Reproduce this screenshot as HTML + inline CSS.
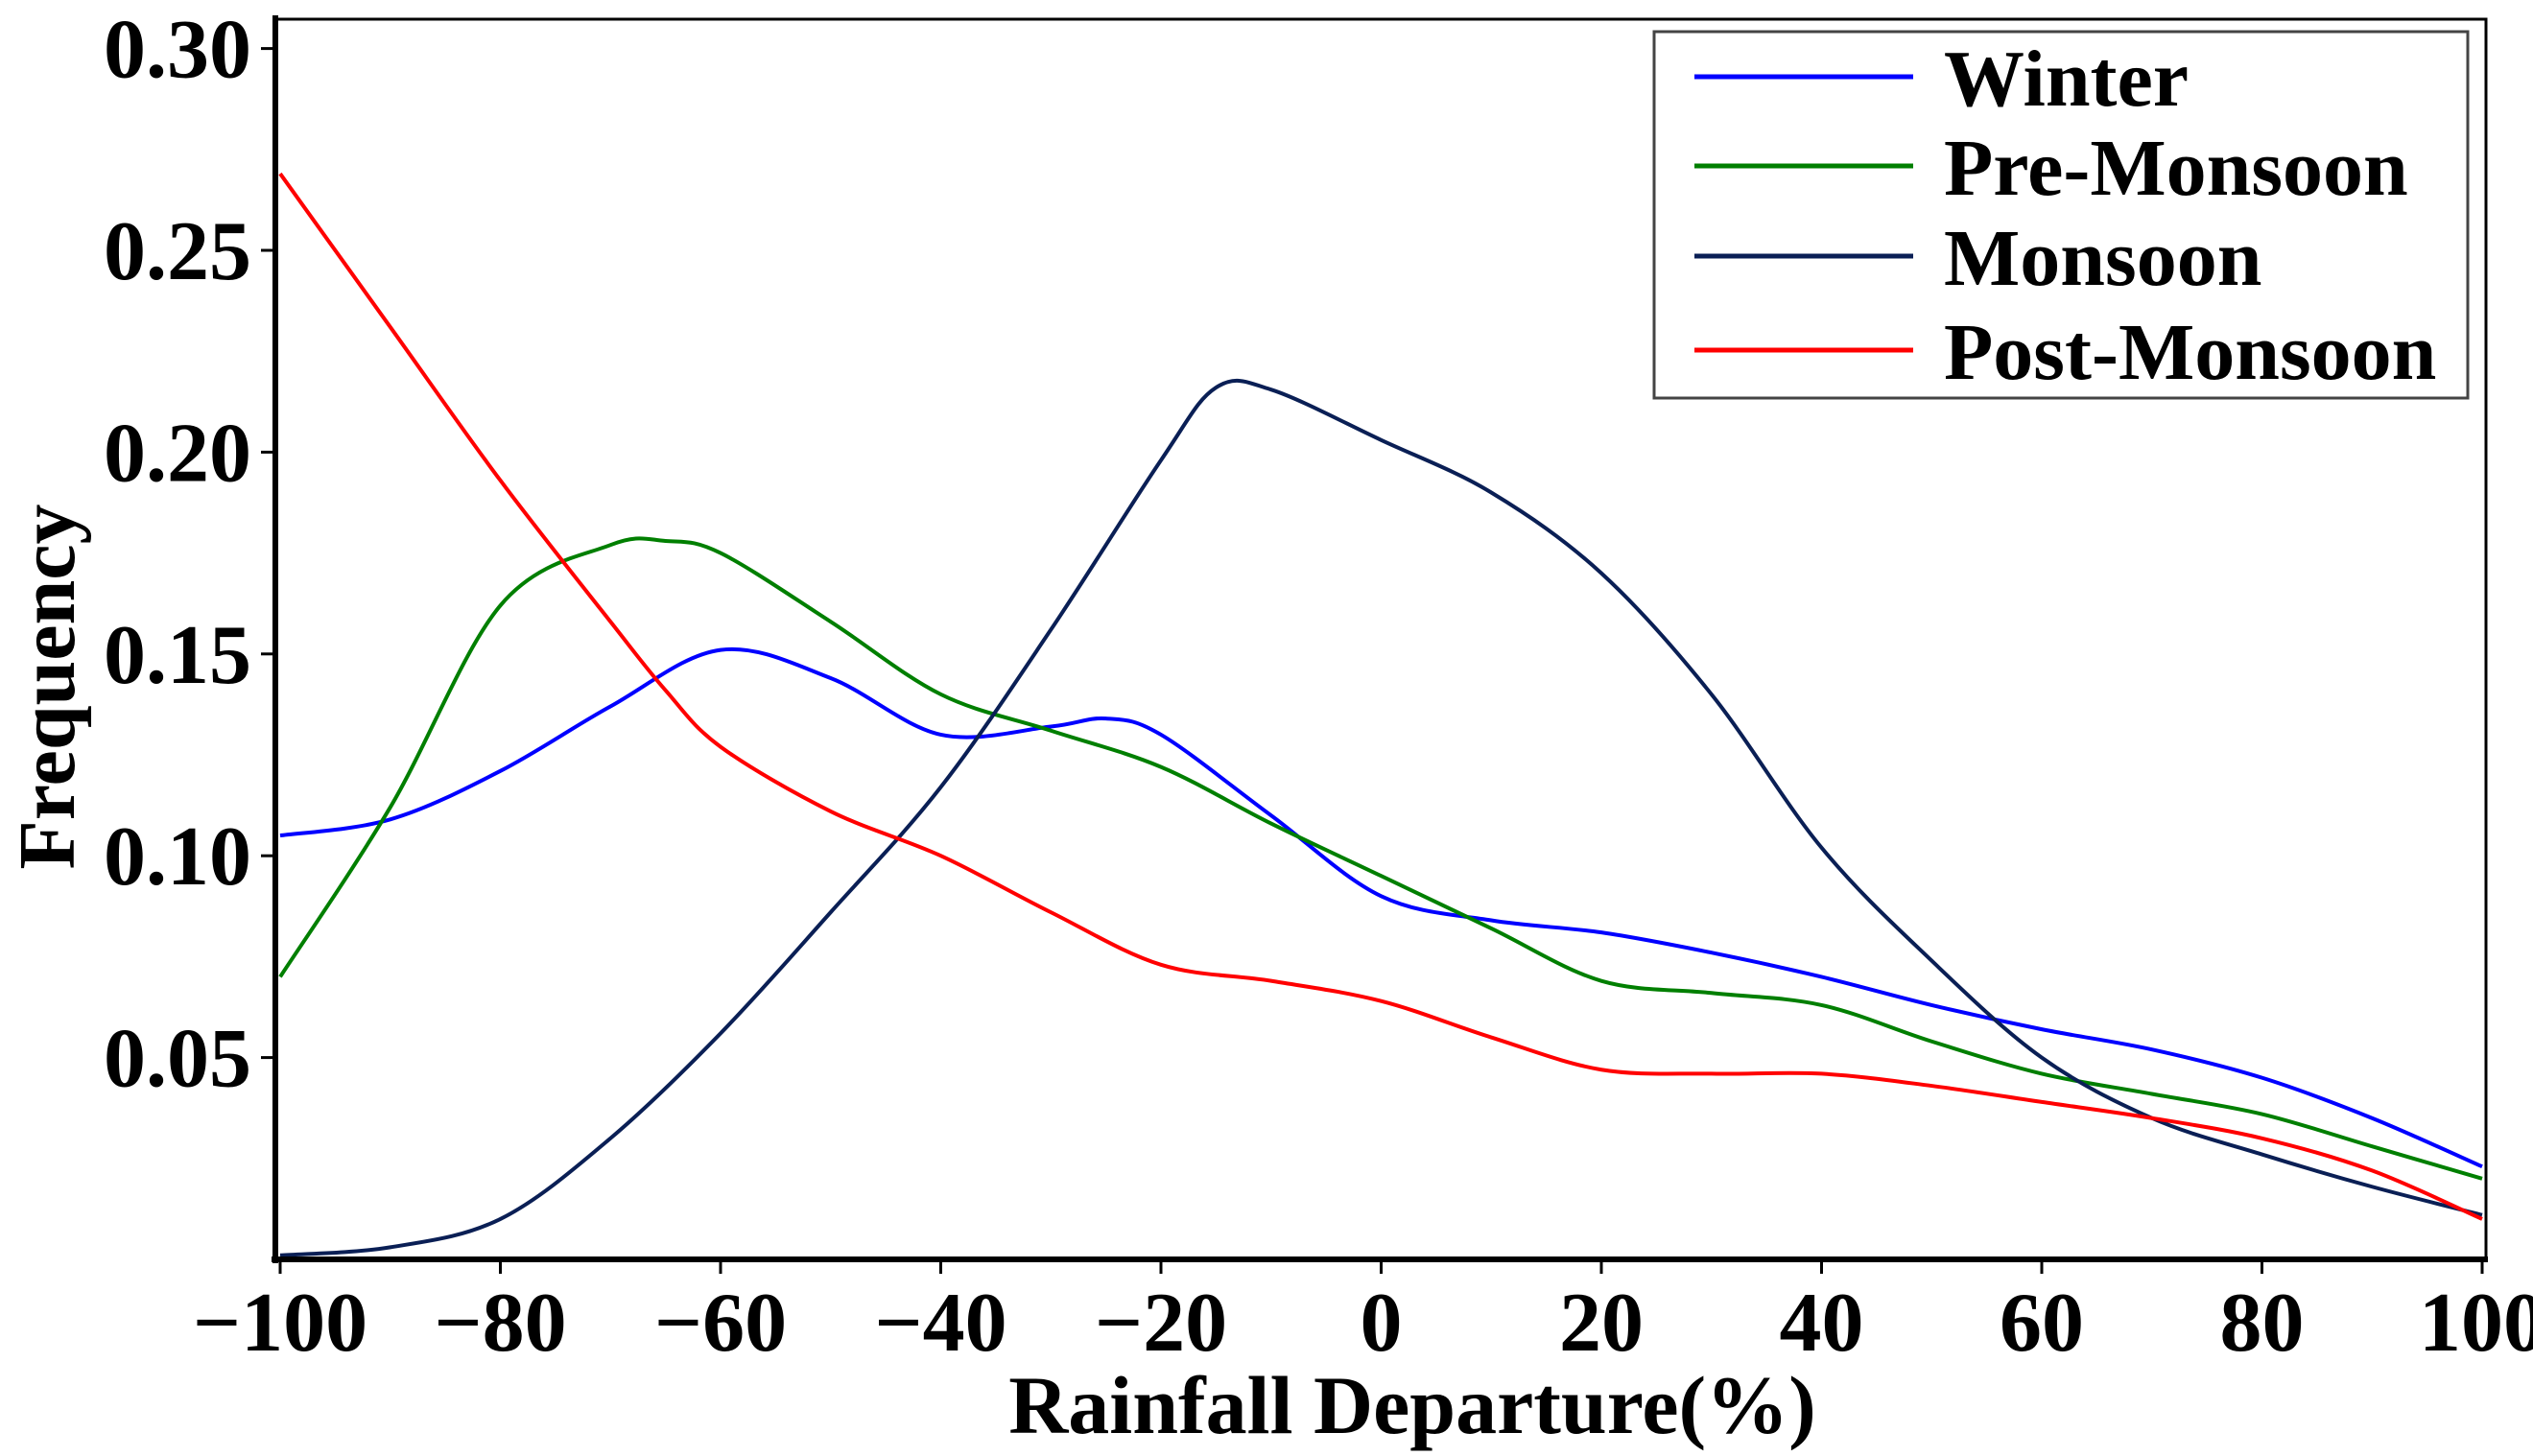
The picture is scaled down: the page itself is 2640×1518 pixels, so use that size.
<!DOCTYPE html>
<html><head><meta charset="utf-8"><style>
html,body{margin:0;padding:0;background:#fff;}
svg{display:block;font-family:"Liberation Serif",serif;font-weight:bold;}
</style></head><body>
<svg id="chart" width="2640" height="1518" viewBox="0 0 2640 1518" xmlns="http://www.w3.org/2000/svg">
<g id="plot"></g>
<g id="axes"></g>
<g id="legend"></g>
</svg>
<script>
const xTicks = [-100,-80,-60,-40,-20,0,20,40,60,80,100];
const xTickLabels = ["\u2212100","\u221280","\u221260","\u221240","\u221220","0","20","40","60","80","100"];
const yTicks = [0.05,0.10,0.15,0.20,0.25,0.30];
const yTickLabels = ["0.05","0.10","0.15","0.20","0.25","0.30"];
const seriesNames = ["Winter","Pre-Monsoon","Monsoon","Post-Monsoon"];
const winterX = [-100,-90,-80,-70,-60,-50,-40,-30,-25,-20,-10,0,10,20,30,40,50,60,70,80,90,100];
const winterY = [0.105,0.109,0.121,0.137,0.151,0.144,0.130,0.132,0.134,0.130,0.110,0.090,0.084,0.081,0.076,0.070,0.063,0.057,0.052,0.045,0.035,0.023];
const preX = [-100,-90,-80,-70,-65,-60,-50,-40,-30,-20,-10,0,10,20,30,40,50,60,70,80,90,100];
const preY = [0.070,0.112,0.162,0.177,0.178,0.175,0.158,0.140,0.131,0.122,0.108,0.095,0.082,0.069,0.066,0.063,0.054,0.046,0.041,0.036,0.028,0.020];
const monX = [-100,-90,-80,-70,-60,-50,-40,-30,-20,-15,-10,0,10,20,30,40,50,60,70,80,90,100];
const monY = [0.001,0.003,0.010,0.030,0.056,0.086,0.117,0.156,0.198,0.216,0.2155,0.203,0.190,0.170,0.140,0.102,0.074,0.050,0.035,0.026,0.018,0.011];
const postX = [-100,-90,-80,-70,-65,-60,-50,-40,-30,-20,-10,0,10,20,30,40,50,60,70,80,90,100];
const postY = [0.269,0.231,0.193,0.158,0.141,0.127,0.111,0.100,0.086,0.073,0.069,0.064,0.055,0.047,0.046,0.046,0.043,0.039,0.035,0.030,0.022,0.010];

const NS="http://www.w3.org/2000/svg";
const X0=292,X1=2587,Y0=1313,PXPER=210.4/0.05;
function sx(v){return X0+(v+100)/200*(X1-X0);}
function sy(v){return Y0-v*PXPER;}
function mk(tag,attrs,parent){const e=document.createElementNS(NS,tag);for(const k in attrs)e.setAttribute(k,attrs[k]);parent.appendChild(e);return e;}
function smoothPath(xs,ys){
  const p=xs.map((x,i)=>[sx(x),sy(ys[i])]);
  let d="M"+p[0][0]+","+p[0][1];
  for(let i=0;i<p.length-1;i++){
    const p0=p[i-1]||p[i],p1=p[i],p2=p[i+1],p3=p[i+2]||p[i+1];
    const c1=[p1[0]+(p2[0]-p0[0])/6,p1[1]+(p2[1]-p0[1])/6];
    const c2=[p2[0]-(p3[0]-p1[0])/6,p2[1]-(p3[1]-p1[1])/6];
    d+=" C"+c1[0]+","+c1[1]+" "+c2[0]+","+c2[1]+" "+p2[0]+","+p2[1];
  }
  return d;
}
const plot=document.getElementById('plot');
const series=[[winterX,winterY,"#0000ff","winter-line"],[preX,preY,"#007f00","pre-monsoon-line"],[monX,monY,"#0a1f55","monsoon-line"],[postX,postY,"#ff0000","post-monsoon-line"]];
const clip=mk('clipPath',{id:'pc'},plot);
mk('rect',{x:287,y:20,width:2304,height:1293},clip);
series.forEach(s=>{
  const path=mk('path',{d:smoothPath(s[0],s[1]),fill:'none',stroke:s[2],'stroke-width':4,'clip-path':'url(#pc)'},plot);
  
  
});
const axes=document.getElementById('axes');
const frame=mk('rect',{x:287,y:20,width:2304,height:1293,fill:'none',stroke:'#000','stroke-width':3},axes);


mk('line',{x1:287,y1:16,x2:287,y2:1317,stroke:'#000','stroke-width':6},axes);
mk('line',{x1:283,y1:1313,x2:2593,y2:1313,stroke:'#000','stroke-width':6},axes);
xTicks.forEach((v,i)=>{
  mk('line',{x1:sx(v),y1:1313,x2:sx(v),y2:1328,stroke:'#000','stroke-width':3},axes);
  const t=mk('text',{x:sx(v),y:1408,'text-anchor':'middle','font-size':88},axes);
  t.textContent=xTickLabels[i];
  
  
});
yTicks.forEach((v,i)=>{
  mk('line',{x1:272,y1:sy(v),x2:287,y2:sy(v),stroke:'#000','stroke-width':3},axes);
  const t=mk('text',{x:262,y:sy(v)+30,'text-anchor':'end','font-size':88},axes);
  t.textContent=yTickLabels[i];
  
  
});
const xt=mk('text',{x:1472,y:1494,'text-anchor':'middle','font-size':86},axes);
xt.textContent="Rainfall Departure(%)";


const yt=mk('text',{x:0,y:0,'text-anchor':'middle','font-size':84,transform:'translate(77,716) rotate(-90)'},axes);
yt.textContent="Frequency";


const lg=document.getElementById('legend');
const box=mk('rect',{x:1724,y:33,width:848,height:382,fill:'#fff',stroke:'#444','stroke-width':3},lg);


const ly=[80,173,267,365];
seriesNames.forEach((n,i)=>{
  const g=mk('g',{},lg);
  
  
  mk('line',{x1:1766,y1:ly[i],x2:1994,y2:ly[i],stroke:series[i][2],'stroke-width':5},g);
  const t=mk('text',{x:2026,y:ly[i]+30,'font-size':84},g);
  t.textContent=n;
});
</script>
</body></html>
